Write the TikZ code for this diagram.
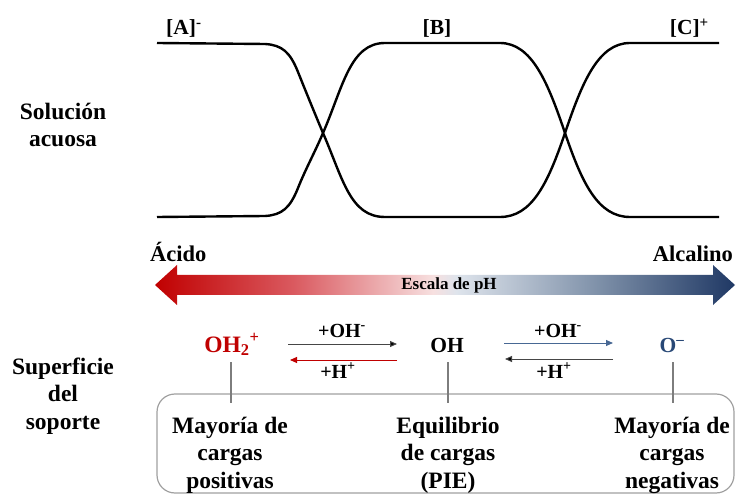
\documentclass[tikz,border=0pt]{standalone}
\usepackage{fontspec}
\setmainfont{Liberation Serif}
\usetikzlibrary{arrows.meta}
\definecolor{acid}{RGB}{192,0,0}
\definecolor{alk}{RGB}{31,56,100}
\definecolor{oneg}{RGB}{40,72,118}
\definecolor{steel}{RGB}{72,104,148}
\definecolor{darkline}{RGB}{70,70,70}
\definecolor{linegray}{RGB}{125,125,125}
\definecolor{boxgray}{RGB}{160,160,160}
\definecolor{pinkA}{RGB}{218,90,96}
\definecolor{pinkB}{RGB}{247,224,224}
\definecolor{blueB}{RGB}{222,228,236}
\definecolor{blueA}{RGB}{128,146,170}
\pgfdeclarehorizontalshading{phshade}{100bp}{color(0bp)=(acid); color(25bp)=(acid); color(37bp)=(pinkA); color(49bp)=(pinkB); color(51bp)=(blueB); color(63bp)=(blueA); color(75bp)=(alk); color(100bp)=(alk)}
\tikzset{
  big/.style={font=\bfseries\fontsize{23.5}{27.5}\selectfont, align=center, inner sep=0pt},
  mid/.style={font=\bfseries\fontsize{21.5}{24}\selectfont, inner sep=0pt},
  ends/.style={font=\bfseries\fontsize{22.5}{24}\selectfont, inner sep=0pt},
  small/.style={font=\bfseries\fontsize{20}{22}\selectfont, inner sep=0pt},
  tiny/.style={font=\bfseries\fontsize{17}{19}\selectfont, inner sep=0pt},
  curve/.style={line width=2.4pt, line join=round},
  react/.style={line width=1pt, -{Triangle[length=7pt,width=6pt]}},
  stem/.style={linegray, line width=1.1pt},
}
\begin{document}
\begin{tikzpicture}[x=1pt,y=-1pt]
\useasboundingbox (0,0) rectangle (736,494);
% curves
\draw[curve] (157,43) -- (265,44) .. controls (282,45) and (290,52) .. (298,72)
  .. controls (306,92) and (315,114) .. (323,133)
  .. controls (343,179) and (350,217) .. (385,217) -- (500,217)
  .. controls (532,217) and (548,183) .. (565,133)
  .. controls (582,83) and (598,43) .. (630,43) -- (719,43);
\draw[curve] (157,217) -- (265,216) .. controls (282,215) and (290,208) .. (298,188)
  .. controls (306,168) and (315,152) .. (323,133)
  .. controls (343,87) and (350,43) .. (385,43) -- (500,43)
  .. controls (532,43) and (548,83) .. (565,133)
  .. controls (582,183) and (598,217) .. (630,217) -- (719,217);
\node[mid, anchor=base west] (A) at (166,35) {[A]\textsuperscript{-}};
\node[mid, anchor=base] (B) at (437,35) {[B]};
\node[mid, anchor=base east] (C) at (709,35) {[C]\textsuperscript{+}};
% side labels
\node[big] (sol) at (63,125) {Solución\\acuosa};
\node[big] (sup) at (63,396) {Superficie\\del\\soporte};
% pH arrow
\shade[shading=phshade] (155,285) -- (177,265) -- (177,275) -- (713,275) -- (713,265)
  -- (735,285) -- (713,305) -- (713,295) -- (177,295) -- (177,305) -- cycle;
\node[ends, anchor=base west] (acido) at (150,262) {Ácido};
\node[ends, anchor=base east] (alcal) at (733,262) {Alcalino};
\node[tiny] (esc) at (449,285) {Escala de pH};
% species
\node[big, acid, anchor=base] (oh2) at (232,352) {OH\textsubscript{2}\textsuperscript{+}};
\node[mid, anchor=base] (oh) at (447,352) {OH};
\node[mid, oneg, anchor=base] (om) at (672,352) {O\textsuperscript{–}};
% reaction arrows
\coordinate (l1) at (288,344); \coordinate (r1) at (397,344);
\coordinate (l2) at (290,360); \coordinate (r2) at (397,360);
\coordinate (l3) at (504,343); \coordinate (r3) at (613,343);
\coordinate (l4) at (505,359); \coordinate (r4) at (613,359);
\draw[react, darkline, -{Triangle[length=7pt,width=6pt,fill=black]}] (l1) -- (r1);
\draw[react, acid] (r2) -- (l2);
\draw[react, steel] (l3) -- (r3);
\draw[react, darkline, -{Triangle[length=7pt,width=6pt,fill=black]}] (r4) -- (l4);
\node[small, anchor=base] (p1) at (342,337) {+OH\textsuperscript{-}};
\node[small, anchor=base] (h1) at (338,378) {+H\textsuperscript{+}};
\node[small, anchor=base] (p2) at (558,337) {+OH\textsuperscript{-}};
\node[small, anchor=base] (h2) at (554,378) {+H\textsuperscript{+}};
% box
\draw[boxgray, line width=1.2pt, rounded corners=18pt] (157,394) rectangle (734,493);
\coordinate (s1a) at (231,362); \coordinate (s1b) at (231,403);
\coordinate (s2a) at (448,362); \coordinate (s2b) at (448,403);
\coordinate (s3a) at (673,362); \coordinate (s3b) at (673,403);
\draw[stem] (s1a) -- (s1b);
\draw[stem] (s2a) -- (s2b);
\draw[stem] (s3a) -- (s3b);
\node[big] (t1) at (230,455) {Mayoría de\\cargas\\positivas};
\node[big] (t2) at (448,455) {Equilibrio\\de cargas\\(PIE)};
\node[big] (t3) at (672,455) {Mayoría de\\cargas\\negativas};
\end{tikzpicture}
\end{document}
